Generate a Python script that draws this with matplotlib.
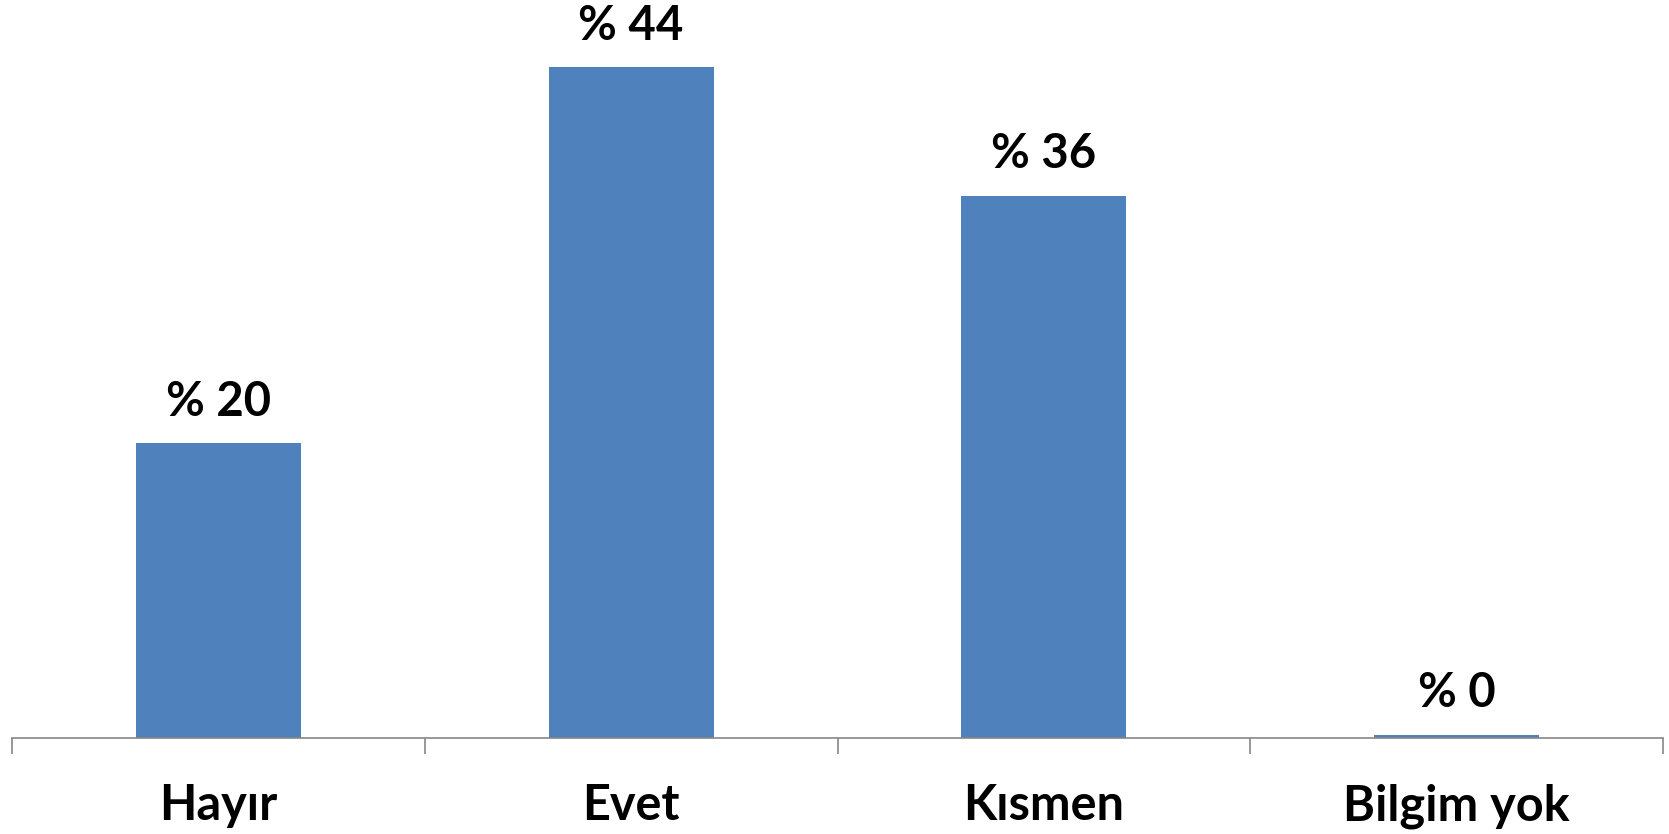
import matplotlib
matplotlib.use("Agg")
import matplotlib.pyplot as plt

categories = ['Hayır', 'Evet', 'Kısmen', 'Bilgim yok']
values = [19.5, 44.4, 35.9, 0.2]

plt.rcParams['font.family'] = ['Lato', 'DejaVu Sans']

fig = plt.figure(figsize=(16.69, 8.34), dpi=100)
ax = fig.add_axes([12 / 1669, 96 / 834, 1651 / 1669, 725 / 834])

x = list(range(len(categories)))
ax.bar(x, values, width=0.4, color='#4f81bd')
ax.set_xlim(-0.5, len(categories) - 0.5)
ax.set_ylim(0, 48)

for xi, v in zip(x, values):
    ax.text(xi, v + 1.3, '% ' + format(v, '.0f'), ha='center', va='bottom',
            fontsize=34, fontweight='bold')

for s in ['top', 'left', 'right']:
    ax.spines[s].set_visible(False)
ax.spines['bottom'].set_color('#868686')
ax.spines['bottom'].set_linewidth(1.2)
ax.set_yticks([])
ax.set_xticks([i - 0.5 for i in range(len(categories) + 1)])
ax.set_xticklabels([])
ax.tick_params(axis='x', direction='out', length=11.5, width=1.2, color='#868686')
for xi, c in zip(x, categories):
    ax.text(xi, -3.0, c, ha='center', va='top', fontsize=35, fontweight='bold')

fig.savefig('out.png', dpi=100)
